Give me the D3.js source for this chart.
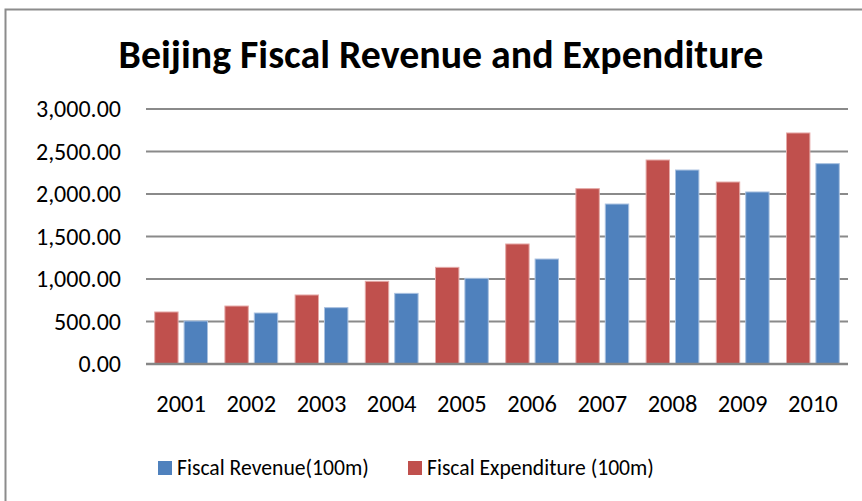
<!DOCTYPE html>
<html>
<head>
<meta charset="utf-8">
<script src="https://cdn.jsdelivr.net/npm/d3@7"></script>
<style>
  html, body { margin: 0; padding: 0; background: #fff; }
  svg { display: block; }
  text { font-family: Calibri, Carlito, Lato, "Open Sans", sans-serif; fill: #000; }
</style>
</head>
<body>
<svg id="chart" width="862" height="501"></svg>
<script>
// Beijing fiscal figures, unit: 100 million yuan
const years = ["2001", "2002", "2003", "2004", "2005", "2006", "2007", "2008", "2009", "2010"];
const expenditure = [612, 682, 812, 973, 1137, 1412, 2063, 2400, 2141, 2718];
const revenue = [506, 600, 663, 831, 1008, 1235, 1882, 2282, 2024, 2357];
const yTicks = [0, 500, 1000, 1500, 2000, 2500, 3000];
const seriesNames = ["Fiscal Expenditure (100m)", "Fiscal Revenue(100m)"];
const seriesColors = ["#C0504D", "#4F81BD"];
const seriesEdges = ["#E5A9A7", "#A9C1E0"];

const svg = d3.select("#chart");

// chart area frame (left and top edges are visible)
svg.append("path")
  .attr("d", "M5.5,501 V9.5 H862")
  .attr("fill", "none")
  .attr("stroke", "#8C8C8C")
  .attr("stroke-width", 2);

const plot = { left: 146, right: 848, top: 109, bottom: 364 };

const x = d3.scaleBand().domain(years).range([plot.left, plot.right]).paddingInner(0).paddingOuter(0);
const y = d3.scaleLinear().domain([0, 3000]).range([plot.bottom, plot.top]);

// horizontal gridlines
svg.append("g")
  .selectAll("line")
  .data(yTicks.filter(d => d > 0))
  .join("line")
  .attr("x1", plot.left).attr("x2", plot.right)
  .attr("y1", d => y(d)).attr("y2", d => y(d))
  .attr("stroke", "#8A8A8A")
  .attr("stroke-width", 2);

// fit a text node to a given width by adjusting its font size
function fitWidth(sel, width) {
  sel.each(function () {
    const w = this.getComputedTextLength();
    const fs = parseFloat(this.getAttribute("font-size"));
    if (w > 0) this.setAttribute("font-size", (fs * width / w).toFixed(2));
  });
}

// y-axis labels
const fmt = d3.format(",.2f");
svg.append("g")
  .selectAll("text")
  .data(yTicks)
  .join("text")
  .attr("x", 121)
  .attr("y", d => y(d))
  .attr("dy", "0.35em")
  .attr("text-anchor", "end")
  .attr("font-size", 24)
  .text(d => fmt(d));

// bars: expenditure on the left, revenue on the right of each year
const bw = x.bandwidth();
const barW = bw / 3;
const gap = 6;
const offset0 = (bw - 2 * barW - gap) / 2;
const series = [expenditure, revenue];

series.forEach((vals, si) => {
  svg.append("g")
    .selectAll("rect")
    .data(vals)
    .join("rect")
    .attr("x", (d, i) => x(years[i]) + offset0 + si * (barW + gap))
    .attr("y", d => y(d))
    .attr("width", barW)
    .attr("height", d => y(0) - y(d))
    .attr("fill", seriesColors[si])
    .attr("stroke", seriesEdges[si])
    .attr("stroke-width", 1);
});

// category axis line
svg.append("line")
  .attr("x1", plot.left).attr("x2", plot.right)
  .attr("y1", y(0)).attr("y2", y(0))
  .attr("stroke", "#868686")
  .attr("stroke-width", 2.5);

// x-axis labels
svg.append("g")
  .selectAll("text")
  .data(years)
  .join("text")
  .attr("x", d => x(d) + bw / 2)
  .attr("y", 412)
  .attr("text-anchor", "middle")
  .attr("font-size", 24.5)
  .text(d => d);

// title
svg.append("text")
  .attr("x", 441)
  .attr("y", 68)
  .attr("text-anchor", "middle")
  .attr("font-size", 40)
  .attr("font-weight", "bold")
  .text("Beijing Fiscal Revenue and Expenditure")
  .call(fitWidth, 645);

// legend: revenue first, then expenditure
const legendItems = [
  { name: seriesNames[1], color: seriesColors[1], x: 158, w: 192 },
  { name: seriesNames[0], color: seriesColors[0], x: 408, w: 227 }
];
const lg = svg.append("g");
legendItems.forEach(it => {
  lg.append("rect")
    .attr("x", it.x).attr("y", 461)
    .attr("width", 14).attr("height", 14)
    .attr("fill", it.color);
  lg.append("text")
    .attr("x", it.x + 19).attr("y", 475)
    .attr("font-size", 21.5)
    .text(it.name)
    .call(fitWidth, it.w);
});
</script>
</body>
</html>
